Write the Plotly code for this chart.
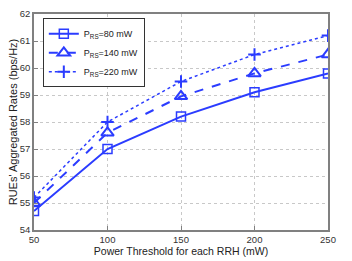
import plotly.graph_objects as go

x_vals = [50, 100, 150, 200, 250]
p80 = [54.7, 57.0, 58.2, 59.1, 59.8]
p140 = [55.0, 57.6, 58.95, 59.8, 60.5]
p220 = [55.2, 58.0, 59.5, 60.5, 61.2]
names = ["P<sub>RS</sub>=80 mW", "P<sub>RS</sub>=140 mW", "P<sub>RS</sub>=220 mW"]

blue = "#2b3cff"
fig = go.Figure()
fig.add_trace(go.Scatter(x=x_vals, y=p80, name=names[0], mode="lines+markers",
                         line=dict(color=blue, width=2, dash="solid"),
                         marker=dict(symbol="square-open", size=9, color=blue, line=dict(width=1.5))))
fig.add_trace(go.Scatter(x=x_vals, y=p140, name=names[1], mode="lines+markers",
                         line=dict(color=blue, width=2, dash="dash"),
                         marker=dict(symbol="triangle-up-open", size=11, color=blue, line=dict(width=2))))
fig.add_trace(go.Scatter(x=x_vals, y=p220, name=names[2], mode="lines+markers",
                         line=dict(color=blue, width=1.5, dash="dot"),
                         marker=dict(symbol="cross-thin-open", size=9, color=blue, line=dict(width=2, color=blue))))

axis_common = dict(showline=True, linecolor="#808080", linewidth=1.5, mirror=True,
                   ticks="inside", ticklen=4, tickcolor="#808080",
                   showgrid=True, gridcolor="#c8c8c8", griddash="dot", gridwidth=1,
                   zeroline=False, tickfont=dict(family="Liberation Sans, Arial", size=9.5, color="#333"))

fig.update_layout(
    width=352, height=261,
    margin=dict(l=34, r=24, t=8, b=29),
    plot_bgcolor="white", paper_bgcolor="white",
    font=dict(family="Liberation Sans, Arial", color="#222"),
    xaxis=dict(range=[50, 250], tickvals=x_vals,
               title=dict(text="Power Threshold for each RRH (mW)", font=dict(size=10.5), standoff=0),
               **axis_common),
    yaxis=dict(range=[54, 62], dtick=1,
               title=dict(text="RUEs' Aggregated Rates (bps/Hz)", font=dict(size=11), standoff=0),
               **axis_common),
    legend=dict(x=0.03, y=0.98, xanchor="left", yanchor="top",
                bgcolor="white", bordercolor="#333", borderwidth=1,
                font=dict(size=9), tracegroupgap=0, itemwidth=30),
    showlegend=True,
)
fig.write_html("out.html", config={"displayModeBar": False},
               post_script="document.body.style.margin='0';document.body.style.overflow='hidden';")
